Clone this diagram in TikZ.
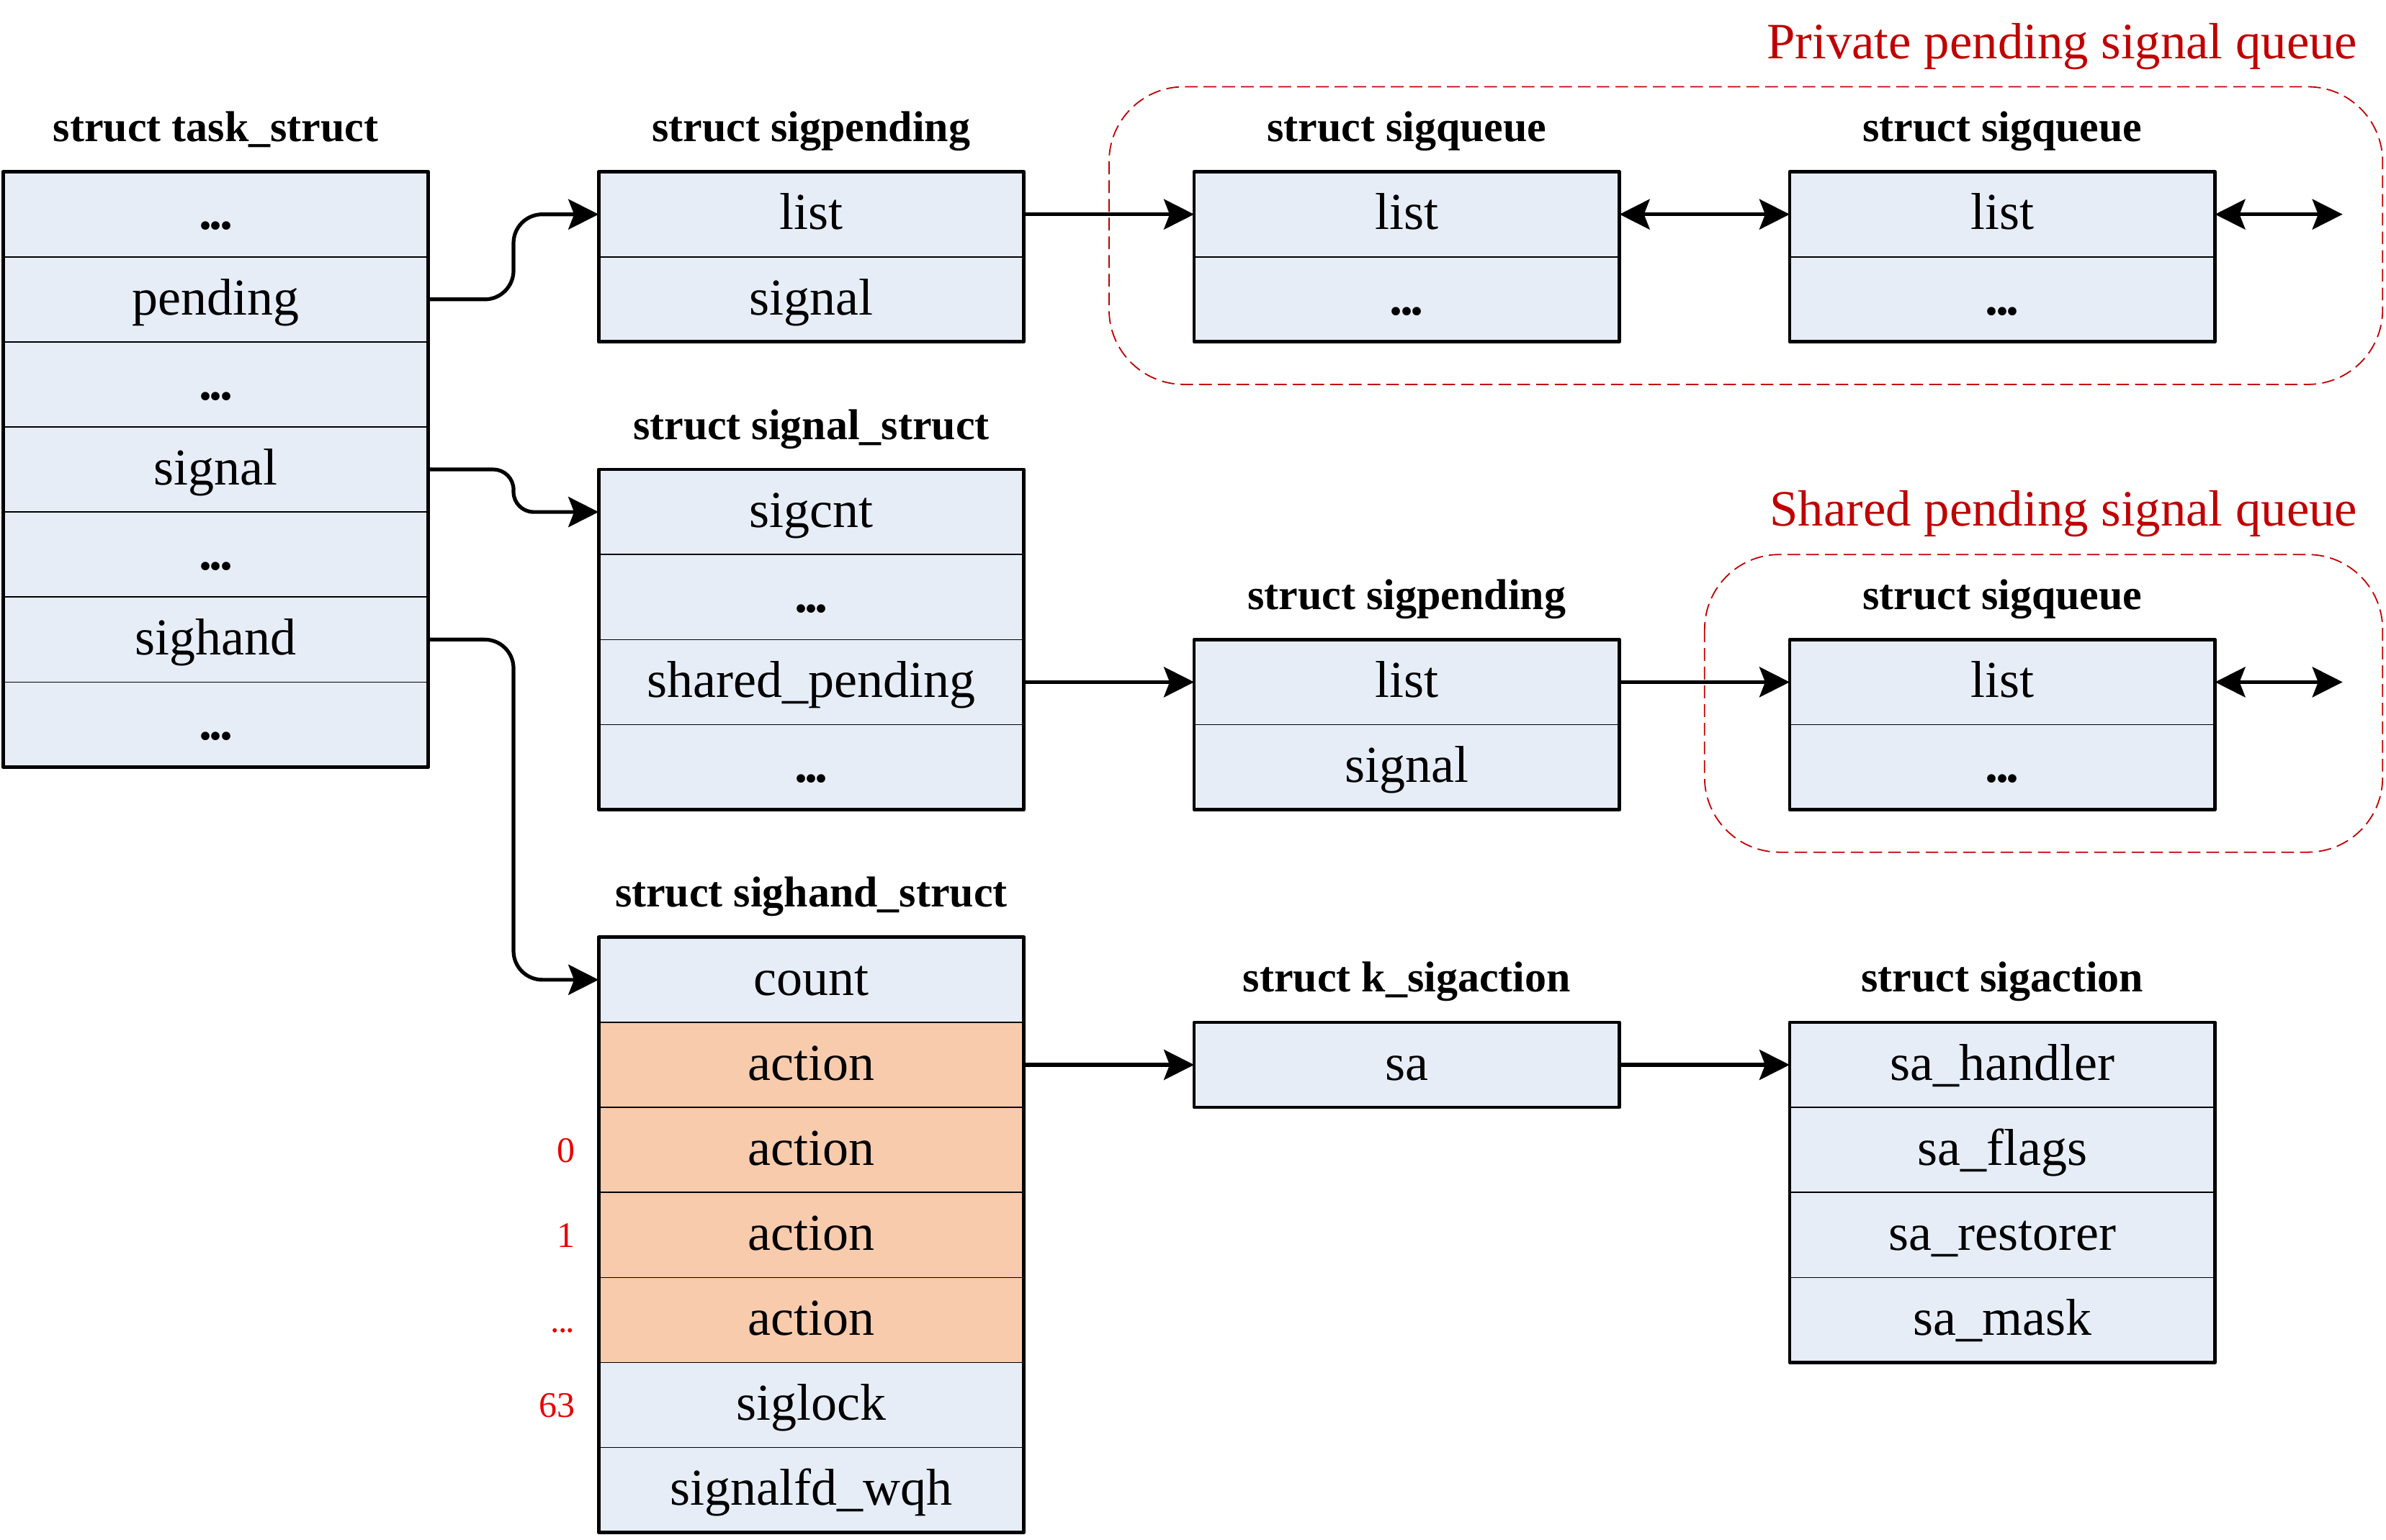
\documentclass[tikz,border=0pt]{standalone}
\usepackage{fontspec}
\setmainfont{Liberation Serif}
\usetikzlibrary{positioning,arrows.meta}
\definecolor{cellblue}{HTML}{E6EDF7}
\definecolor{actfill}{HTML}{F8CBAD}
\definecolor{grpred}{HTML}{C00000}
\definecolor{idxred}{HTML}{E80000}
\newcommand{\fdots}{\textbf{.\kern-.9pt.\kern-.9pt.}}

\begin{document}
\begin{tikzpicture}[x=29.54pt,y=29.54pt,node distance=59.08pt,
    rowcell/.style={draw,line width=0.4pt,fill=cellblue,minimum width=147.7pt,minimum height=29.54pt,
      inner sep=0pt,outer sep=0pt,text height=13pt,text depth=2.4pt,font=\fontsize{18}{20}\selectfont},
    boxframe/.style={line width=1.2pt,line join=round},
    structname/.style={anchor=base,inner sep=0pt,font=\bfseries\fontsize{15}{18}\selectfont},
    idxlabel/.style={inner sep=0pt,text=idxred,text height=8.6pt,text depth=0pt,font=\fontsize{12.5}{14}\selectfont},
    queuenote/.style={anchor=base east,inner sep=0pt,text=grpred,font=\fontsize{17.7}{20}\selectfont},
    queuebox/.style={draw=grpred,line width=0.45pt,dash pattern=on 4.4pt off 2.1pt,rounded corners=26pt},
    ptr/.style={line width=1.3pt,-{Stealth[length=10.5pt,width=10.5pt,inset=2pt]},rounded corners=10pt},
    dptr/.style={line width=1.3pt,{Stealth[length=10.5pt,width=10.5pt,inset=2pt]}-{Stealth[length=10.5pt,width=10.5pt,inset=2pt]}}]
    \useasboundingbox (-0.036,2.02) rectangle (28.01,-16.08);

    \draw[queuebox] (13,1) rectangle (27.97,-2.5);
    \draw[queuebox] (20,-4.5) rectangle (27.97,-8);
    \node[queuenote] at (27.68,1.33) {Private pending signal queue};
    \node[queuenote] at (27.68,-4.16) {Shared pending signal queue};

    \node[rowcell,anchor=north west] (ts1) at (0,0) {\fdots};
    \foreach \t [count=\i from 2,remember=\i as \j (initially 1)] in {pending,\fdots,signal,\fdots,sighand,\fdots}
        \node[rowcell,below=0pt of ts\j] (ts\i) {\t};

    \node[rowcell,right=of ts1] (pp1) {list};
    \node[rowcell,below=0pt of pp1] (pp2) {signal};
    \node[rowcell,right=of pp1] (pqa1) {list};
    \node[rowcell,below=0pt of pqa1] (pqa2) {\fdots};
    \node[rowcell,right=of pqa1] (pqb1) {list};
    \node[rowcell,below=0pt of pqb1] (pqb2) {\fdots};

    \node[rowcell,anchor=north west] (ss1) at (7,-3.5) {sigcnt};
    \foreach \t [count=\i from 2,remember=\i as \j (initially 1)] in {\fdots,shared\_pending,\fdots}
        \node[rowcell,below=0pt of ss\j] (ss\i) {\t};
    \node[rowcell,right=of ss3] (sp1) {list};
    \node[rowcell,below=0pt of sp1] (sp2) {signal};
    \node[rowcell,right=of sp1] (sq1) {list};
    \node[rowcell,below=0pt of sq1] (sq2) {\fdots};

    \node[rowcell,anchor=north west] (sh1) at (7,-9) {count};
    \foreach \t/\f [count=\i from 2,remember=\i as \j (initially 1)] in
        {action/actfill,action/actfill,action/actfill,action/actfill,siglock/cellblue,signalfd\_wqh/cellblue}
        \node[rowcell,fill=\f,below=0pt of sh\j] (sh\i) {\t};
    \node[rowcell,right=of sh2] (ka1) {sa};
    \node[rowcell,right=of ka1] (sa1) {sa\_handler};
    \foreach \t [count=\i from 2,remember=\i as \j (initially 1)] in {sa\_flags,sa\_restorer,sa\_mask}
        \node[rowcell,below=0pt of sa\j] (sa\i) {\t};

    \foreach \a/\b in {ts1/ts7,pp1/pp2,pqa1/pqa2,pqb1/pqb2,ss1/ss4,sp1/sp2,sq1/sq2,sh1/sh7,ka1/ka1,sa1/sa4}
        \draw[boxframe] (\a.north west) rectangle (\b.south east);

    \node[structname] at ([yshift=10.5pt]ts1.north) {struct task\_struct};
    \node[structname] at ([yshift=10.5pt]pp1.north) {struct sigpending};
    \node[structname] at ([yshift=10.5pt]pqa1.north) {struct sigqueue};
    \node[structname] at ([yshift=10.5pt]pqb1.north) {struct sigqueue};
    \node[structname] at ([yshift=10.5pt]ss1.north) {struct signal\_struct};
    \node[structname] at ([yshift=10.5pt]sp1.north) {struct sigpending};
    \node[structname] at ([yshift=10.5pt]sq1.north) {struct sigqueue};
    \node[structname] at ([yshift=10.5pt]sh1.north) {struct sighand\_struct};
    \node[structname] at ([yshift=10.5pt]ka1.north) {struct k\_sigaction};
    \node[structname] at ([yshift=10.5pt]sa1.north) {struct sigaction};

    \node[idxlabel,left=8pt of sh3.west] (i0) {0};
    \node[idxlabel,left=8pt of sh4.west] (i1) {1};
    \node[idxlabel,left=8pt of sh5.west] (idots) {.\kern-.5pt.\kern-.5pt.};
    \node[idxlabel,left=8pt of sh6.west] (i63) {63};

    \draw[ptr] (ts2.east) -- ++(1,0) |- (pp1.west);
    \draw[ptr,rounded corners=7pt] (ts4.east) -- ++(1,0) |- (ss1.west);
    \draw[ptr] (ts6.east) -- ++(1,0) |- (sh1.west);
    \draw[ptr] (pp1) -- (pqa1);
    \draw[dptr] (pqa1) -- (pqb1);
    \coordinate[right=44.3pt of pqb1.east] (qend1);
    \draw[dptr] (pqb1) -- (qend1);
    \draw[ptr] (ss3) -- (sp1);
    \draw[ptr] (sp1) -- (sq1);
    \coordinate[right=44.3pt of sq1.east] (qend2);
    \draw[dptr] (sq1) -- (qend2);
    \draw[ptr] (sh2) -- (ka1);
    \draw[ptr] (ka1) -- (sa1);
\end{tikzpicture}
\end{document}
